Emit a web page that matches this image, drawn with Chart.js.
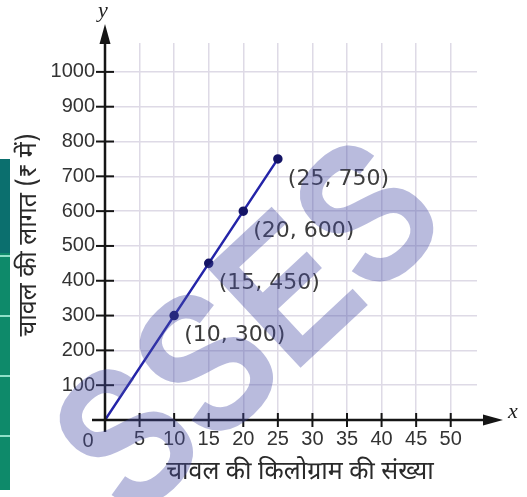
<!DOCTYPE html>
<html>
<head>
<meta charset="utf-8">
<script src="https://cdn.jsdelivr.net/npm/chart.js@4/dist/chart.umd.min.js"></script>
<style>
html,body{margin:0;padding:0;background:#fff;}
canvas{display:block;}
</style>
</head>
<body>
<canvas id="c" width="527" height="497"></canvas>
<script>
// ---- data ----
const kgValues = [0, 10, 15, 20, 25];
const costValues = [0, 300, 450, 600, 750];
const pointLabels = ['', '(10, 300)', '(15, 450)', '(20, 600)', '(25, 750)'];
const xTickValues = [0, 5, 10, 15, 20, 25, 30, 35, 40, 45, 50];
const yTickValues = [100, 200, 300, 400, 500, 600, 700, 800, 900, 1000];
const xTitle = 'चावल की किलोग्राम की संख्या';
const yTitle = 'चावल की लागत (₹ में)';
const watermarkText = 'SSES';

const DEV_FONT = '"Noto Sans Devanagari", "Lohit Devanagari", "Noto Sans", sans-serif';

const axesPlugin = {
  id: 'axesPlugin',
  beforeDraw(chart) {
    const ctx = chart.ctx;
    ctx.save();
    ctx.fillStyle = '#ffffff';
    ctx.fillRect(0, 0, chart.width, chart.height);
    // left strip
    ctx.fillStyle = '#0b6f6e';
    ctx.fillRect(0, 159, 10, 94);
    ctx.fillStyle = '#0e8a6a';
    ctx.fillRect(0, 253, 10, 237);
    ctx.fillStyle = '#8fe0c8';
    [256, 316, 376, 436].forEach(y => ctx.fillRect(0, y - 1, 10, 2));
    ctx.restore();
  },
  afterDatasetsDraw(chart) {
    const ctx = chart.ctx;
    const xs = chart.scales.x, ys = chart.scales.y;
    const x0 = xs.getPixelForValue(0), y0 = ys.getPixelForValue(0);
    ctx.save();
    ctx.strokeStyle = '#151515';
    ctx.fillStyle = '#151515';
    ctx.lineWidth = 2.5;
    // x axis
    ctx.beginPath(); ctx.moveTo(x0 - 13, y0); ctx.lineTo(488, y0); ctx.stroke();
    ctx.beginPath(); ctx.moveTo(503, y0); ctx.lineTo(483, y0 - 5.5); ctx.lineTo(483, y0 + 5.5); ctx.closePath(); ctx.fill();
    // y axis
    ctx.beginPath(); ctx.moveTo(x0, y0 + 12); ctx.lineTo(x0, 40); ctx.stroke();
    ctx.beginPath(); ctx.moveTo(x0, 24); ctx.lineTo(x0 - 5.5, 44); ctx.lineTo(x0 + 5.5, 44); ctx.closePath(); ctx.fill();
    // tick marks
    ctx.lineWidth = 2;
    xTickValues.forEach(v => {
      if (v === 0) return;
      const px = xs.getPixelForValue(v);
      ctx.beginPath(); ctx.moveTo(px, y0 - 7); ctx.lineTo(px, y0 + 7); ctx.stroke();
    });
    yTickValues.forEach(v => {
      const py = ys.getPixelForValue(v);
      ctx.beginPath(); ctx.moveTo(x0 - 9, py); ctx.lineTo(x0 + 9, py); ctx.stroke();
    });
    // origin label
    ctx.fillStyle = '#333';
    ctx.font = '20px "Liberation Sans", Arial, sans-serif';
    ctx.textAlign = 'center'; ctx.textBaseline = 'middle';
    ctx.fillText('0', x0 - 17, y0 + 21);
    // axis letters
    ctx.fillStyle = '#222';
    ctx.font = 'italic 22px "Liberation Serif", "DejaVu Serif", serif';
    ctx.fillText('x', 513, y0 - 8);
    ctx.fillText('y', x0 - 2, 11);
    // axis titles
    ctx.fillStyle = '#2a2a2a';
    ctx.font = '25px ' + DEV_FONT;
    ctx.fillText(xTitle, 300, 474);
    ctx.save();
    ctx.translate(31, 235);
    ctx.rotate(-Math.PI / 2);
    ctx.fillText(yTitle, 0, 0);
    ctx.restore();
    // point labels
    ctx.fillStyle = '#3c3c3c';
    ctx.font = '22px "DejaVu Sans", sans-serif';
    ctx.textAlign = 'left';
    const meta = chart.getDatasetMeta(0);
    meta.data.forEach((pt, i) => {
      if (!pointLabels[i]) return;
      ctx.fillText(pointLabels[i], pt.x + 10, pt.y + 20);
    });
    ctx.restore();
  },
  afterDraw(chart) {
    const ctx = chart.ctx;
    ctx.save();
    ctx.fillStyle = 'rgba(70,75,165,0.38)';
    ctx.font = 'bold 200px "Liberation Sans", Arial, sans-serif';
    ctx.textAlign = 'center'; ctx.textBaseline = 'middle';
    ctx.translate(255, 335);
    ctx.rotate(-0.75);
    ctx.scale(0.82, 1);
    ctx.fillText(watermarkText, 0, 0);
    ctx.restore();
  }
};

new Chart(document.getElementById('c'), {
  type: 'line',
  data: {
    datasets: [{
      data: kgValues.map((k, i) => ({ x: k, y: costValues[i] })),
      borderColor: '#2424a8',
      borderWidth: 2.5,
      pointBackgroundColor: '#141466',
      pointBorderColor: '#141466',
      pointRadius: c => (c.dataIndex === 0 ? 0 : 3.5),
      tension: 0,
      fill: false
    }]
  },
  options: {
    responsive: false,
    animation: false,
    devicePixelRatio: 1,
    layout: { padding: { left: 0, top: 43, right: 50, bottom: 0 } },
    plugins: { legend: { display: false }, tooltip: { enabled: false } },
    scales: {
      x: {
        type: 'linear', min: 0, max: 53.8,
        afterBuildTicks: s => { s.ticks = xTickValues.map(v => ({ value: v })); },
        afterFit: s => { s.height = 77; },
        grid: { color: '#dedae6', lineWidth: 1.5, drawTicks: false },
        border: { display: false },
        ticks: {
          padding: 7, maxRotation: 0, autoSkip: false,
          color: '#333', font: { family: '"Liberation Sans", Arial, sans-serif', size: 20 },
          callback: v => (v === 0 ? '' : String(v))
        }
      },
      y: {
        type: 'linear', min: 0, max: 1083,
        afterBuildTicks: s => { s.ticks = yTickValues.map(v => ({ value: v })); },
        afterFit: s => { s.width = 105; },
        grid: { color: '#dedae6', lineWidth: 1.5, drawTicks: false },
        border: { display: false },
        ticks: {
          padding: 10, autoSkip: false,
          color: '#333', font: { family: '"Liberation Sans", Arial, sans-serif', size: 20 },
          callback: v => String(v)
        }
      }
    }
  },
  plugins: [axesPlugin]
});
</script>
</body>
</html>
